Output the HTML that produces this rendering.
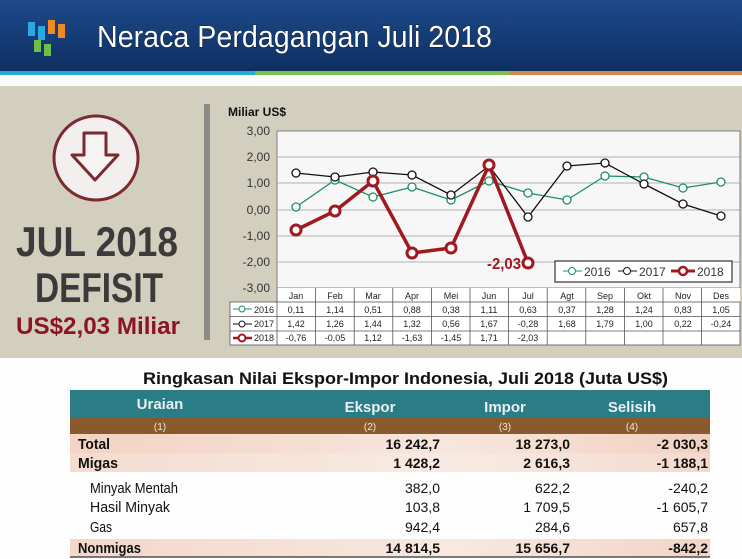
<!DOCTYPE html>
<html><head><meta charset="utf-8"><style>
html,body{margin:0;padding:0;width:742px;height:559px;overflow:hidden;background:#fff}
svg{display:block}
text{font-family:"Liberation Sans",sans-serif}
</style></head><body>
<svg width="742" height="559" viewBox="0 0 742 559" xmlns="http://www.w3.org/2000/svg">
<defs>
<linearGradient id="hd" x1="0" y1="0" x2="0" y2="1"><stop offset="0" stop-color="#1d4a8a"/><stop offset="1" stop-color="#0e2f62"/></linearGradient>
<linearGradient id="pk" x1="0" y1="0" x2="1" y2="0"><stop offset="0" stop-color="#f2d3c4"/><stop offset="0.6" stop-color="#f7e6dc"/><stop offset="1" stop-color="#f1d0c0"/></linearGradient>
</defs>
<rect x="0" y="0" width="742" height="72" fill="url(#hd)"/>
<rect x="0" y="71" width="255" height="4" fill="#2aa8d8"/>
<rect x="255" y="71" width="255" height="4" fill="#7cc24a"/>
<rect x="510" y="71" width="232" height="4" fill="#d08a4a"/>
<rect x="0" y="75" width="742" height="11" fill="#fbfbfb"/>
<rect x="28" y="22" width="7" height="14" fill="#2aa8e0"/><rect x="38" y="26" width="7" height="14" fill="#2aa8e0"/>
<rect x="48" y="20" width="7" height="14" fill="#f08a24"/><rect x="58" y="24" width="7" height="14" fill="#f08a24"/>
<rect x="34" y="40" width="7" height="12" fill="#6cc04a"/><rect x="44" y="44" width="7" height="12" fill="#6cc04a"/>
<text x="97" y="47" font-size="31" fill="#fff" stroke="#000" stroke-width="0.6" paint-order="stroke" textLength="395" lengthAdjust="spacingAndGlyphs">Neraca Perdagangan Juli 2018</text>
<rect x="0" y="86" width="742" height="272" fill="#d3cfbf"/>
<rect x="0" y="358" width="742" height="201" fill="#fdfdfd"/>
<circle cx="96" cy="158" r="42" fill="#f4efef" stroke="#7a2a30" stroke-width="3"/>
<path d="M84 133 h22 v22 h12 l-23 25 l-23 -25 h12 z" fill="#f8f4f4" stroke="#7a2a30" stroke-width="3" stroke-linejoin="round"/>
<text x="16" y="256" font-size="42" font-weight="bold" fill="#3b3b3b" textLength="162" lengthAdjust="spacingAndGlyphs">JUL 2018</text>
<text x="35" y="302" font-size="42" font-weight="bold" fill="#3b3b3b" textLength="128" lengthAdjust="spacingAndGlyphs">DEFISIT</text>
<text x="16" y="334" font-size="24" font-weight="bold" fill="#8b1520" textLength="164" lengthAdjust="spacingAndGlyphs">US$2,03 Miliar</text>
<rect x="204" y="104" width="6" height="236" fill="#8a8a86"/>
<text x="228" y="116" font-size="12" font-weight="bold" fill="#111" textLength="58" lengthAdjust="spacingAndGlyphs">Miliar US$</text>
<rect x="277" y="131" width="463" height="157" fill="#f7f7f7" stroke="#666" stroke-width="0.8"/>
<g stroke="#999" stroke-width="0.8">
<line x1="277" y1="157" x2="740" y2="157"/><line x1="277" y1="183" x2="740" y2="183"/>
<line x1="277" y1="210" x2="740" y2="210"/><line x1="277" y1="236" x2="740" y2="236"/><line x1="277" y1="262" x2="740" y2="262"/>
</g>
<g font-size="12" fill="#333" text-anchor="end">
<text x="270" y="135">3,00</text><text x="270" y="161">2,00</text><text x="270" y="187">1,00</text>
<text x="270" y="214">0,00</text><text x="270" y="240">-1,00</text><text x="270" y="266">-2,00</text><text x="270" y="292">-3,00</text>
</g>
<polyline fill="none" stroke="#1e9060" stroke-width="1.3" points="296,207 335,180 373,197 412,187 451,200 489,181 528,193 567,200 605,176 644,177 683,188 721,182"/>
<g fill="#fff" stroke="#1e9060" stroke-width="1.3">
<circle cx="296" cy="207" r="4"/><circle cx="335" cy="180" r="4"/><circle cx="373" cy="197" r="4"/><circle cx="412" cy="187" r="4"/><circle cx="451" cy="200" r="4"/><circle cx="489" cy="181" r="4"/><circle cx="528" cy="193" r="4"/><circle cx="567" cy="200" r="4"/><circle cx="605" cy="176" r="4"/><circle cx="644" cy="177" r="4"/><circle cx="683" cy="188" r="4"/><circle cx="721" cy="182" r="4"/>
</g>
<polyline fill="none" stroke="#111" stroke-width="1.3" points="296,173 335,177 373,172 412,175 451,195 489,166 528,217 567,166 605,163 644,184 683,204 721,216"/>
<g fill="#fff" stroke="#111" stroke-width="1.3">
<circle cx="296" cy="173" r="4"/><circle cx="335" cy="177" r="4"/><circle cx="373" cy="172" r="4"/><circle cx="412" cy="175" r="4"/><circle cx="451" cy="195" r="4"/><circle cx="489" cy="166" r="4"/><circle cx="528" cy="217" r="4"/><circle cx="567" cy="166" r="4"/><circle cx="605" cy="163" r="4"/><circle cx="644" cy="184" r="4"/><circle cx="683" cy="204" r="4"/><circle cx="721" cy="216" r="4"/>
</g>
<polyline fill="none" stroke="#a01820" stroke-width="3.5" points="296,230 335,211 373,181 412,253 451,248 489,165 528,263"/>
<g fill="#fff" stroke="#a01820" stroke-width="3">
<circle cx="296" cy="230" r="5"/><circle cx="335" cy="211" r="5"/><circle cx="373" cy="181" r="5"/><circle cx="412" cy="253" r="5"/><circle cx="451" cy="248" r="5"/><circle cx="489" cy="165" r="5"/><circle cx="528" cy="263" r="5"/>
</g>
<text x="487" y="269" font-size="16" font-weight="bold" fill="#a01820" textLength="34" lengthAdjust="spacingAndGlyphs">-2,03</text>
<rect x="555" y="261" width="177" height="21" fill="#fff" stroke="#333" stroke-width="1.2"/>
<g font-size="12" fill="#333">
<line x1="563" y1="271" x2="582" y2="271" stroke="#1e9060"/><circle cx="572" cy="271" r="3.5" fill="#fff" stroke="#1e9060"/><text x="584" y="276">2016</text>
<line x1="618" y1="271" x2="637" y2="271" stroke="#111"/><circle cx="627" cy="271" r="3.5" fill="#fff" stroke="#111"/><text x="639" y="276">2017</text>
<line x1="671" y1="271" x2="695" y2="271" stroke="#a01820" stroke-width="3"/><circle cx="683" cy="271" r="4" fill="#fff" stroke="#a01820" stroke-width="2.5"/><text x="697" y="276">2018</text>
</g>
<rect x="277" y="288" width="463" height="57" fill="#fff"/>
<rect x="230" y="302" width="47" height="43" fill="#fff"/>
<g stroke="#555" stroke-width="0.8" fill="none">
<rect x="230" y="302" width="510" height="43"/>
<line x1="230" y1="316.5" x2="740" y2="316.5"/><line x1="230" y1="331" x2="740" y2="331"/>
<line x1="277" y1="288" x2="277" y2="345"/>
<line x1="315.6" y1="288" x2="315.6" y2="345"/><line x1="354.2" y1="288" x2="354.2" y2="345"/><line x1="392.8" y1="288" x2="392.8" y2="345"/><line x1="431.4" y1="288" x2="431.4" y2="345"/><line x1="470" y1="288" x2="470" y2="345"/><line x1="508.6" y1="288" x2="508.6" y2="345"/><line x1="547.2" y1="288" x2="547.2" y2="345"/><line x1="585.8" y1="288" x2="585.8" y2="345"/><line x1="624.4" y1="288" x2="624.4" y2="345"/><line x1="663" y1="288" x2="663" y2="345"/><line x1="701.6" y1="288" x2="701.6" y2="345"/>
</g>
<g font-size="9" fill="#222" text-anchor="middle">
<text x="296" y="299">Jan</text><text x="335" y="299">Feb</text><text x="373" y="299">Mar</text><text x="412" y="299">Apr</text><text x="451" y="299">Mei</text><text x="489" y="299">Jun</text><text x="528" y="299">Jul</text><text x="567" y="299">Agt</text><text x="605" y="299">Sep</text><text x="644" y="299">Okt</text><text x="683" y="299">Nov</text><text x="721" y="299">Des</text>
<text x="296" y="313">0,11</text><text x="335" y="313">1,14</text><text x="373" y="313">0,51</text><text x="412" y="313">0,88</text><text x="451" y="313">0,38</text><text x="489" y="313">1,11</text><text x="528" y="313">0,63</text><text x="567" y="313">0,37</text><text x="605" y="313">1,28</text><text x="644" y="313">1,24</text><text x="683" y="313">0,83</text><text x="721" y="313">1,05</text>
<text x="296" y="327">1,42</text><text x="335" y="327">1,26</text><text x="373" y="327">1,44</text><text x="412" y="327">1,32</text><text x="451" y="327">0,56</text><text x="489" y="327">1,67</text><text x="528" y="327">-0,28</text><text x="567" y="327">1,68</text><text x="605" y="327">1,79</text><text x="644" y="327">1,00</text><text x="683" y="327">0,22</text><text x="721" y="327">-0,24</text>
<text x="296" y="341">-0,76</text><text x="335" y="341">-0,05</text><text x="373" y="341">1,12</text><text x="412" y="341">-1,63</text><text x="451" y="341">-1,45</text><text x="489" y="341">1,71</text><text x="528" y="341">-2,03</text>
</g>
<g font-size="9" fill="#222">
<line x1="233" y1="309" x2="252" y2="309" stroke="#1e9060"/><circle cx="242" cy="309" r="3" fill="#fff" stroke="#1e9060"/><text x="254" y="313">2016</text>
<line x1="233" y1="324" x2="252" y2="324" stroke="#111"/><circle cx="242" cy="324" r="3" fill="#fff" stroke="#111"/><text x="254" y="327">2017</text>
<line x1="233" y1="338" x2="252" y2="338" stroke="#a01820" stroke-width="2.5"/><circle cx="242" cy="338" r="3.5" fill="#fff" stroke="#a01820" stroke-width="2"/><text x="254" y="341">2018</text>
</g>
<text x="143" y="384" font-size="17" font-weight="bold" fill="#111" textLength="525" lengthAdjust="spacingAndGlyphs">Ringkasan Nilai Ekspor-Impor Indonesia, Juli 2018 (Juta US$)</text>
<rect x="70" y="390" width="640" height="28" fill="#2a7c86"/>
<rect x="70" y="418" width="640" height="16" fill="#8a5a2c"/>
<g font-size="15" font-weight="bold" fill="#e8f0f0" text-anchor="middle">
<text x="160" y="409">Uraian</text><text x="370" y="412">Ekspor</text><text x="505" y="412">Impor</text><text x="632" y="412">Selisih</text>
</g>
<g font-size="10" fill="#f0e6d8" text-anchor="middle">
<text x="160" y="430">(1)</text><text x="370" y="430">(2)</text><text x="505" y="430">(3)</text><text x="632" y="430">(4)</text>
</g>
<rect x="70" y="434" width="640" height="19" fill="url(#pk)"/>
<rect x="70" y="453" width="640" height="19" fill="url(#pk)" opacity="0.8"/>
<rect x="70" y="539" width="640" height="18" fill="url(#pk)" opacity="0.9"/>
<line x1="70" y1="557" x2="710" y2="557" stroke="#333" stroke-width="1.2"/>
<g font-size="15" fill="#111">
<text x="78" y="449" font-weight="bold" textLength="32" lengthAdjust="spacingAndGlyphs">Total</text>
<text x="78" y="468" font-weight="bold" textLength="40" lengthAdjust="spacingAndGlyphs">Migas</text>
<text x="90" y="493" textLength="88" lengthAdjust="spacingAndGlyphs">Minyak Mentah</text>
<text x="90" y="512" textLength="80" lengthAdjust="spacingAndGlyphs">Hasil  Minyak</text>
<text x="90" y="532" textLength="22" lengthAdjust="spacingAndGlyphs">Gas</text>
<text x="78" y="553" font-weight="bold" textLength="63" lengthAdjust="spacingAndGlyphs">Nonmigas</text>
</g>
<g font-size="14" fill="#111" text-anchor="end">
<text x="440" y="449" font-weight="bold">16 242,7</text><text x="570" y="449" font-weight="bold">18 273,0</text><text x="708" y="449" font-weight="bold">-2 030,3</text>
<text x="440" y="468" font-weight="bold">1 428,2</text><text x="570" y="468" font-weight="bold">2 616,3</text><text x="708" y="468" font-weight="bold">-1 188,1</text>
<text x="440" y="493">382,0</text><text x="570" y="493">622,2</text><text x="708" y="493">-240,2</text>
<text x="440" y="512">103,8</text><text x="570" y="512">1 709,5</text><text x="708" y="512">-1 605,7</text>
<text x="440" y="532">942,4</text><text x="570" y="532">284,6</text><text x="708" y="532">657,8</text>
<text x="440" y="553" font-weight="bold">14 814,5</text><text x="570" y="553" font-weight="bold">15 656,7</text><text x="708" y="553" font-weight="bold">-842,2</text>
</g>
</svg>
</body></html>
